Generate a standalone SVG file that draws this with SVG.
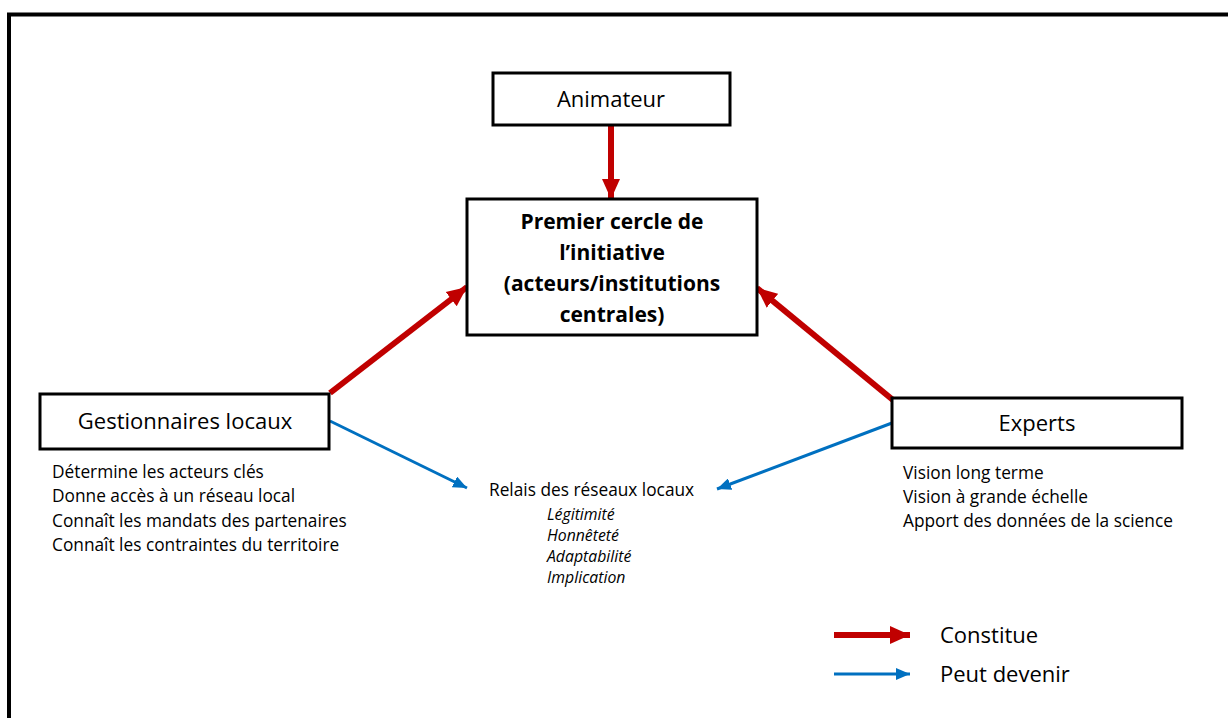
<svg xmlns="http://www.w3.org/2000/svg" width="1228" height="718" viewBox="0 0 1228 718">
<style>
.box{fill:#fff;stroke:#000;stroke-width:3}
.t{font-family:"Open Sans","Liberation Sans",sans-serif;fill:#000}
.lbl{font-size:22px;text-anchor:middle}
.b{font-size:21px;font-weight:bold;text-anchor:middle}
.sm{font-size:17.3px}
.it{font-size:15.8px;font-style:italic}
.red{stroke:#c00000;stroke-width:6;fill:none}
.blue{stroke:#0070c0;stroke-width:3;fill:none}
</style>
<defs>
<marker id="ar" markerUnits="userSpaceOnUse" markerWidth="20" markerHeight="20" refX="20" refY="10" orient="auto"><path d="M0,1 L20,10 L0,19 Z" fill="#c00000"/></marker>
<marker id="ab" markerUnits="userSpaceOnUse" markerWidth="14" markerHeight="12" refX="14" refY="6" orient="auto"><path d="M0,0 L14,6 L0,12 Z" fill="#0070c0"/></marker>
</defs>
<rect x="9" y="14.5" width="1240" height="720" fill="none" stroke="#000" stroke-width="4"/>
<g id="connectors">
<line class="red" x1="611" y1="126" x2="611" y2="199" marker-end="url(#ar)"/>
<line class="red" x1="330" y1="393" x2="467" y2="287" marker-end="url(#ar)"/>
<line class="red" x1="893" y1="400" x2="757" y2="288" marker-end="url(#ar)"/>
<line class="blue" x1="330" y1="421" x2="467" y2="488" marker-end="url(#ab)"/>
<line class="blue" x1="892" y1="423" x2="717" y2="489" marker-end="url(#ab)"/>
</g>
<g id="animateur">
<rect class="box" x="493" y="73" width="237" height="52"/>
<text class="t lbl" x="611" y="107">Animateur</text>
</g>
<g id="premier">
<rect class="box" x="467" y="199" width="290" height="136"/>
<text class="t b" x="612" y="229">Premier cercle de</text>
<text class="t b" x="612" y="260">l’initiative</text>
<text class="t b" x="612" y="291">(acteurs/institutions</text>
<text class="t b" x="612" y="322">centrales)</text>
</g>
<g id="gestionnaires">
<rect class="box" x="40" y="394" width="289" height="55"/>
<text class="t lbl" x="185" y="429">Gestionnaires locaux</text>
<text class="t sm" x="52" y="478">Détermine les acteurs clés</text>
<text class="t sm" x="52" y="502">Donne accès à un réseau local</text>
<text class="t sm" x="52" y="527">Connaît les mandats des partenaires</text>
<text class="t sm" x="52" y="551">Connaît les contraintes du territoire</text>
</g>
<g id="experts">
<rect class="box" x="892" y="398" width="290" height="50"/>
<text class="t lbl" x="1037" y="431">Experts</text>
<text class="t sm" x="903" y="479">Vision long terme</text>
<text class="t sm" x="903" y="503">Vision à grande échelle</text>
<text class="t sm" x="903" y="527">Apport des données de la science</text>
</g>
<g id="relais">
<text class="t sm" x="489" y="496">Relais des réseaux locaux</text>
<text class="t it" x="547" y="520">Légitimité</text>
<text class="t it" x="547" y="541">Honnêteté</text>
<text class="t it" x="547" y="562">Adaptabilité</text>
<text class="t it" x="547" y="583">Implication</text>
</g>
<g id="legend">
<line class="red" x1="834" y1="635" x2="910" y2="635" marker-end="url(#ar)"/>
<line class="blue" x1="834" y1="674" x2="910" y2="674" marker-end="url(#ab)"/>
<text class="t" x="940" y="643" font-size="22">Constitue</text>
<text class="t" x="940" y="682" font-size="22">Peut devenir</text>
</g>
</svg>
